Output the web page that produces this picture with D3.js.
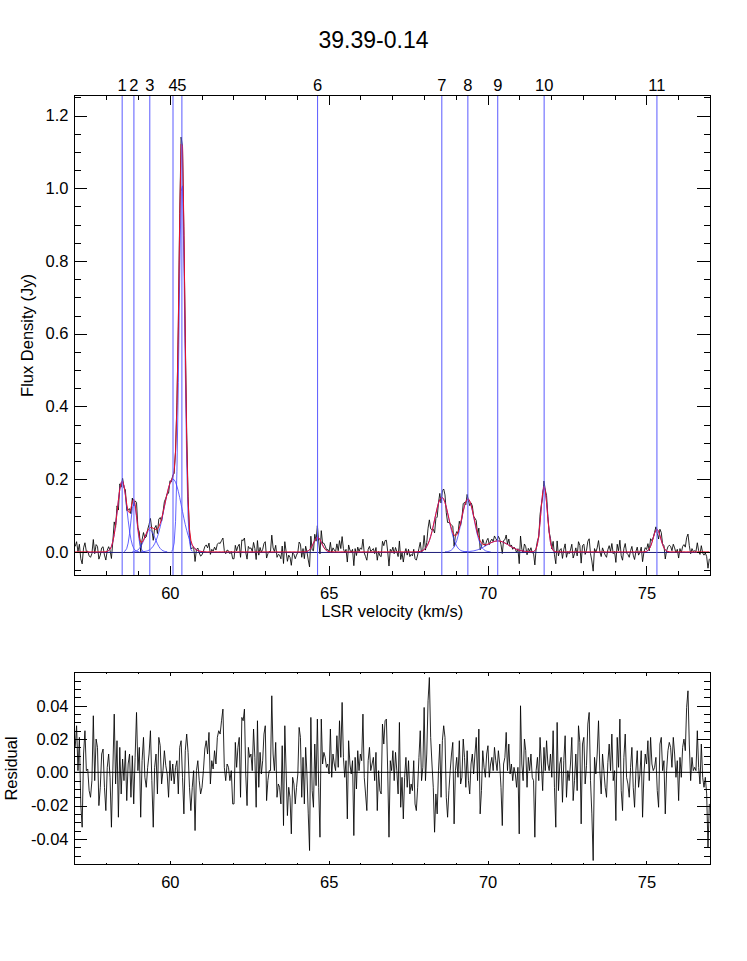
<!DOCTYPE html>
<html>
<head>
<meta charset="utf-8">
<script src="https://cdn.jsdelivr.net/npm/d3@7"></script>
<style>
  body { margin: 0; background: #fff; }
  text { font-family: "Liberation Sans", Arial, sans-serif; fill: #000; }
</style>
</head>
<body>
<div id="chart"></div>
<script>

// ---- data ----
var title = "39.39-0.14";

// gaussian components: centre (km/s), peak (Jy), FWHM (km/s)
var compLabels = ["1", "2", "3", "4", "5", "6", "7", "8", "9", "10", "11"];
var compVel  = [58.50, 58.87, 59.37, 60.10, 60.38, 64.65, 68.56, 69.38, 70.32, 71.78, 75.33];
var compAmp  = [0.195, 0.135, 0.060, 0.200, 1.030, 0.040, 0.150, 0.145, 0.030, 0.180, 0.062];
var compFwhm = [0.35,  0.23,  0.40,  0.65,  0.21,  0.30,  0.52,  0.47,  0.82,  0.24,  0.28];

// residual in mJy, four 5 km/s stretches (57-62, 62-67, 67-72, 72-77)
var res57 = [15,28,1,21,-19,-33,11,25,1,2,-11,-15,-5,34,-5,20,15,-20,-9,11,14,-9,-23,3,11,-3,-33,1,35,-7,19,-27,15,-13,8,-5,13,-17,5,11,-15,10,-19,9,36,1,15,-27,7,21,-3,-9,3,11,25,-5,-33,3,11,-13,21,16,-7,1,13,4,-1,-15,7,-5,5,-7,3,7,-13,15,19,-3,-25,13,23,12,-9,-23,-9,1,-35,1,7,-5,-13,-9,1,14,19,11,24,-7,7,2,13,5,21,25,23,31,38,3,-5,5,3,-5,1,-19];
var res62 = [-19,18,3,15,21,-15,33,31,38,-1,-20,15,9,11,1,26,9,-21,31,-9,12,-1,7,23,28,-17,-5,1,1,46,11,1,18,-15,-7,-9,-19,16,-32,28,1,-26,-9,-15,-37,-3,-7,-19,-9,-1,27,21,-15,9,-19,15,-1,-25,-47,33,-11,-21,17,-8,32,-9,-39,32,5,12,9,3,5,-1,26,-3,11,5,1,22,3,31,9,42,9,-3,7,-28,19,5,-1,7,-38,9,-10,13,1,11,7,35,-3,-13,-23,7,15,1,5,9,-5,12,-23,1,-11,-13,29,17,31,32,1,-39,7,1];
var res67 = [13,-5,12,1,-13,30,-21,-3,-28,-3,9,-9,7,-13,-7,-11,7,-19,-23,-9,9,25,-5,3,39,-5,11,43,57,21,5,-9,-36,-13,-25,1,17,-15,19,28,21,-15,-27,-11,1,11,18,-31,1,9,-3,19,-7,-3,20,9,-9,13,-5,-13,5,11,-1,11,21,-5,26,-25,-11,13,3,-3,11,16,-3,5,9,1,15,7,1,13,5,-9,-32,5,9,24,1,17,-1,5,-5,3,-1,-9,3,-37,40,5,-5,20,13,-9,9,1,11,-3,-5,-39,1,9,-5,21,5,-11,15,1,19,5,1,11];
var res72 = [-3,25,-9,-33,30,-11,5,9,-18,7,22,-15,1,-5,5,21,-17,-5,11,-11,28,18,-31,17,21,-7,4,29,36,-5,-25,-53,9,-1,11,31,1,-13,11,1,-9,-15,6,17,1,23,-5,1,-29,21,3,32,-11,-23,9,23,-3,-7,-15,3,15,-9,-21,1,13,-9,-1,13,-27,-1,11,5,19,-5,21,5,1,3,9,-11,-21,17,21,1,7,-25,1,13,18,15,3,21,11,-3,7,-17,9,-3,15,20,13,39,49,17,-5,9,1,3,1,25,3,-7,17,-3,-9,-3,-13,-45,-19];

var xMajor = [60, 65, 70, 75];
var xMinor = [58, 59, 61, 62, 63, 64, 66, 67, 68, 69, 71, 72, 73, 74, 76];
var yMajorTop = [0.0, 0.2, 0.4, 0.6, 0.8, 1.0, 1.2];
var yMajorRes = [-0.04, -0.02, 0.00, 0.02, 0.04];

// ---- build channels ----
var stretches = [[57, res57], [62, res62], [67, res67], [72, res72]];
var chans = [];
stretches.forEach(function(s) {
  var n = s[1].length;
  s[1].forEach(function(r, i) {
    chans.push({v: s[0] + 5 * (i + 0.5) / n, res: r / 1000});
  });
});

function gauss(v, k) {
  var d = v - compVel[k];
  return compAmp[k] * Math.exp(-4 * Math.LN2 * d * d / (compFwhm[k] * compFwhm[k]));
}
chans.forEach(function(c) {
  c.fit = d3.sum(compVel, function(_, k) { return gauss(c.v, k); });
  c.flux = c.fit + c.res;
});

// ---- layout ----
var W = 747, H = 961;
var left = 74.5, right = 710;
var top1 = 95.5, bot1 = 575.5;
var top2 = 672.5, bot2 = 864.5;

var svg = d3.select("#chart").append("svg")
  .attr("width", W).attr("height", H);

var x = d3.scaleLinear().domain([57, 77]).range([left, right]);
var y1 = d3.scaleLinear().domain([-0.065, 1.255]).range([bot1, top1]);
var y2 = d3.scaleLinear().domain([-0.0554, 0.06]).range([bot2, top2]);

svg.append("defs").selectAll("clipPath")
  .data([["c1", top1, bot1], ["c2", top2, bot2]])
  .enter().append("clipPath").attr("id", function(d) { return d[0]; })
  .append("rect")
    .attr("x", left).attr("y", function(d) { return d[1]; })
    .attr("width", right - left).attr("height", function(d) { return d[2] - d[1]; });

// title
svg.append("text")
  .attr("x", W / 2).attr("y", 47.5)
  .attr("text-anchor", "middle")
  .style("font-size", "23px")
  .text(title);

// frame with IDL style inward ticks
function frame(yScale, yTop, yBot, yMajor, yMinor, yFmt, xTick) {
  var g = svg.append("g").attr("shape-rendering", "crispEdges");
  var yTick = 0.02 * (right - left);
  g.append("g").attr("transform", "translate(0," + yBot + ")")
    .call(d3.axisBottom(x).tickValues(xMajor).tickSizeInner(-xTick).tickSizeOuter(0)
      .tickPadding(12).tickFormat(d3.format("d")));
  g.append("g").attr("transform", "translate(0," + yBot + ")")
    .call(d3.axisBottom(x).tickValues(xMinor).tickSizeInner(-xTick / 2).tickSizeOuter(0).tickFormat(""));
  g.append("g").attr("transform", "translate(0," + yTop + ")")
    .call(d3.axisTop(x).tickValues(xMajor).tickSizeInner(-xTick).tickSizeOuter(0).tickFormat(""));
  g.append("g").attr("transform", "translate(0," + yTop + ")")
    .call(d3.axisTop(x).tickValues(xMinor).tickSizeInner(-xTick / 2).tickSizeOuter(0).tickFormat(""));
  g.append("g").attr("transform", "translate(" + left + ",0)")
    .call(d3.axisLeft(yScale).tickValues(yMajor).tickSizeInner(-yTick).tickSizeOuter(0)
      .tickPadding(6).tickFormat(yFmt));
  g.append("g").attr("transform", "translate(" + left + ",0)")
    .call(d3.axisLeft(yScale).tickValues(yMinor).tickSizeInner(-yTick / 2).tickSizeOuter(0).tickFormat(""));
  g.append("g").attr("transform", "translate(" + right + ",0)")
    .call(d3.axisRight(yScale).tickValues(yMajor).tickSizeInner(-yTick).tickSizeOuter(0).tickFormat(""));
  g.append("g").attr("transform", "translate(" + right + ",0)")
    .call(d3.axisRight(yScale).tickValues(yMinor).tickSizeInner(-yTick / 2).tickSizeOuter(0).tickFormat(""));
  g.selectAll(".domain").remove();
  g.selectAll(".tick line").attr("stroke", "#000");
  g.selectAll("text").style("font-size", "16.5px").attr("fill", "#000");
  g.append("rect")
    .attr("x", left).attr("y", yTop)
    .attr("width", right - left).attr("height", yBot - yTop)
    .attr("fill", "none").attr("stroke", "#000");
}

var minorTop = d3.range(-1, 26).map(function(i) { return +(i * 0.05).toFixed(2); })
  .filter(function(d) { return Math.abs(d * 5 - Math.round(d * 5)) > 1e-6; });
var minorRes = d3.range(-11, 13).map(function(i) { return +(i * 0.005).toFixed(3); })
  .filter(function(d) { return Math.abs(d * 50 - Math.round(d * 50)) > 1e-6; });

// ---- top panel ----
var p1 = svg.append("g").attr("clip-path", "url(#c1)");

p1.append("path").datum(chans)
  .attr("fill", "none").attr("stroke", "#000").attr("stroke-width", 0.85)
  .attr("d", d3.line().x(function(d) { return x(d.v); }).y(function(d) { return y1(d.flux); }));

compVel.forEach(function(c, k) {
  p1.append("path").datum(chans.filter(function(d) { return gauss(d.v, k) > 2e-4; }))
    .attr("fill", "none").attr("stroke", "#3a3aff").attr("stroke-width", 0.8)
    .attr("d", d3.line().x(function(d) { return x(d.v); }).y(function(d) { return y1(gauss(d.v, k)); }));
});

// zero line
p1.append("line")
  .attr("x1", left).attr("x2", right)
  .attr("y1", y1(0) + 0.6).attr("y2", y1(0) + 0.6)
  .attr("stroke", "#1c1c78").attr("stroke-width", 1);

p1.append("path").datum(chans)
  .attr("fill", "none").attr("stroke", "#e8102e").attr("stroke-width", 1)
  .attr("d", d3.line().x(function(d) { return x(d.v); }).y(function(d) { return y1(d.fit); }));

p1.selectAll(".vline").data(compVel).enter().append("line")
  .attr("class", "vline")
  .attr("x1", function(d) { return x(d); }).attr("x2", function(d) { return x(d); })
  .attr("y1", top1).attr("y2", bot1)
  .attr("stroke", "#5a5aff").attr("stroke-width", 1);

svg.selectAll(".clab").data(compVel).enter().append("text")
  .attr("class", "clab")
  .attr("x", function(d) { return x(d); }).attr("y", 90.5)
  .attr("text-anchor", "middle")
  .style("font-size", "16.5px")
  .text(function(d, i) { return compLabels[i]; });

frame(y1, top1, bot1, yMajorTop, minorTop, function(d) { return d.toFixed(1); }, 0.02 * (bot1 - top1));

svg.append("text")
  .attr("x", (left + right) / 2).attr("y", 617)
  .attr("text-anchor", "middle")
  .style("font-size", "16.5px")
  .text("LSR velocity (km/s)");

svg.append("text")
  .attr("transform", "translate(33," + (top1 + bot1) / 2 + ") rotate(-90)")
  .attr("text-anchor", "middle")
  .style("font-size", "16.5px")
  .text("Flux Density (Jy)");

// ---- residual panel ----
var p2 = svg.append("g").attr("clip-path", "url(#c2)");

p2.append("path").datum(chans)
  .attr("fill", "none").attr("stroke", "#000").attr("stroke-width", 0.85)
  .attr("d", d3.line().x(function(d) { return x(d.v); }).y(function(d) { return y2(d.res); }));

p2.append("line")
  .attr("x1", left).attr("x2", right)
  .attr("y1", y2(0)).attr("y2", y2(0))
  .attr("stroke", "#000").attr("stroke-width", 1);

frame(y2, top2, bot2, yMajorRes, minorRes, function(d) { return d.toFixed(2); }, 0.02 * (bot2 - top2));

svg.append("text")
  .attr("transform", "translate(17," + (top2 + bot2) / 2 + ") rotate(-90)")
  .attr("text-anchor", "middle")
  .style("font-size", "16.5px")
  .text("Residual");

</script>
</body>
</html>
